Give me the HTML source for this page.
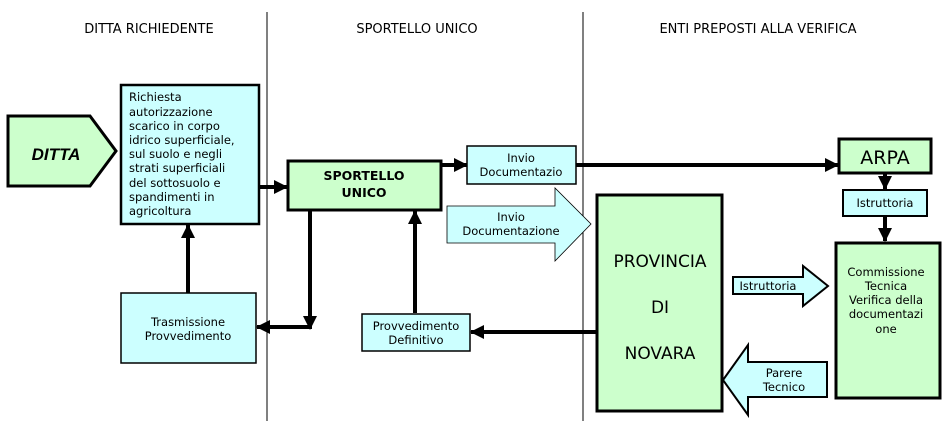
<!DOCTYPE html>
<html><head><meta charset="utf-8"><style>
html,body{margin:0;padding:0;background:#fff}
svg{display:block}
text{font-family:"DejaVu Sans","Liberation Sans",sans-serif;font-size:11.5px;fill:#000}
text.h{font-size:13px}
text.big{font-size:17px}
text.b{font-weight:bold;font-size:12.5px}
</style></head><body>
<svg width="951" height="421" viewBox="0 0 951 421" xmlns="http://www.w3.org/2000/svg">
<defs>
<marker id="a" markerWidth="14" markerHeight="14" refX="13" refY="7" orient="auto" markerUnits="userSpaceOnUse"><path d="M0,0 L14,7 L0,14 z" fill="#000"/></marker>
</defs>
<line x1="267" y1="12" x2="267" y2="421" stroke="#000" stroke-width="1"/>
<line x1="583" y1="12" x2="583" y2="421" stroke="#000" stroke-width="1"/>
<text class="h" x="149" y="33" text-anchor="middle">DITTA RICHIEDENTE</text>
<text class="h" x="417" y="33" text-anchor="middle">SPORTELLO UNICO</text>
<text class="h" x="758" y="33" text-anchor="middle">ENTI PREPOSTI ALLA VERIFICA</text>

<path d="M8,116 L90,116 L116,151 L90,186 L8,186 z" fill="#ccffcc" stroke="#000" stroke-width="3"/>
<text x="56" y="160" text-anchor="middle" style="font-size:17px;font-weight:bold;font-style:italic;font-family:'Liberation Sans',sans-serif">DITTA</text>

<rect x="121" y="85" width="138" height="139" fill="#ccffff" stroke="#000" stroke-width="2.5"/>
<text x="129" y="101">Richiesta</text>
<text x="129" y="116">autorizzazione</text>
<text x="129" y="130">scarico in corpo</text>
<text x="129" y="144">idrico superficiale,</text>
<text x="129" y="158">sul suolo e negli</text>
<text x="129" y="172">strati superficiali</text>
<text x="129" y="187">del sottosuolo e</text>
<text x="129" y="201">spandimenti in</text>
<text x="129" y="215">agricoltura</text>

<line x1="259" y1="187" x2="287" y2="187" stroke="#000" stroke-width="4" marker-end="url(#a)"/>

<rect x="288" y="161" width="153" height="49" fill="#ccffcc" stroke="#000" stroke-width="3"/>
<text class="b" x="364" y="180" text-anchor="middle">SPORTELLO</text>
<text class="b" x="364" y="197" text-anchor="middle">UNICO</text>

<rect x="121" y="293" width="135" height="70" fill="#ccffff" stroke="#000" stroke-width="1.5"/>
<text x="188" y="326" text-anchor="middle">Trasmissione</text>
<text x="188" y="340" text-anchor="middle">Provvedimento</text>
<line x1="188" y1="293" x2="188" y2="225" stroke="#000" stroke-width="4" marker-end="url(#a)"/>

<line x1="310" y1="210" x2="310" y2="329" stroke="#000" stroke-width="4" marker-end="url(#a)"/>
<line x1="312" y1="327" x2="257" y2="327" stroke="#000" stroke-width="4" marker-end="url(#a)"/>

<rect x="362" y="314" width="108" height="37" fill="#ccffff" stroke="#000" stroke-width="1.5"/>
<text x="416" y="330" text-anchor="middle">Provvedimento</text>
<text x="416" y="344" text-anchor="middle">Definitivo</text>
<line x1="415" y1="313" x2="415" y2="211" stroke="#000" stroke-width="4" marker-end="url(#a)"/>

<line x1="441" y1="165" x2="467" y2="165" stroke="#000" stroke-width="4" marker-end="url(#a)"/>
<rect x="467" y="146" width="109" height="38" fill="#ccffff" stroke="#000" stroke-width="1.5"/>
<text x="521" y="162" text-anchor="middle">Invio</text>
<text x="521" y="176" text-anchor="middle">Documentazio</text>
<line x1="576" y1="165" x2="838" y2="165" stroke="#000" stroke-width="4" marker-end="url(#a)"/>

<path d="M447,206 L555,206 L555,188 L591,224 L555,261 L555,243 L447,243 z" fill="#ccffff" stroke="#000" stroke-width="0.8"/>
<text x="511" y="221" text-anchor="middle">Invio</text>
<text x="511" y="235" text-anchor="middle">Documentazione</text>

<rect x="839" y="139" width="92" height="34" fill="#ccffcc" stroke="#000" stroke-width="3"/>
<text x="885" y="164" text-anchor="middle" style="font-size:19px">ARPA</text>
<line x1="885" y1="173" x2="885" y2="189" stroke="#000" stroke-width="4" marker-end="url(#a)"/>
<rect x="843" y="190" width="84" height="26" fill="#ccffff" stroke="#000" stroke-width="2"/>
<text x="885" y="207" text-anchor="middle">Istruttoria</text>
<line x1="885" y1="216" x2="885" y2="241" stroke="#000" stroke-width="4" marker-end="url(#a)"/>

<rect x="836" y="243" width="104" height="155" fill="#ccffcc" stroke="#000" stroke-width="3"/>
<text x="886" y="276" text-anchor="middle">Commissione</text>
<text x="886" y="290" text-anchor="middle">Tecnica</text>
<text x="886" y="304" text-anchor="middle">Verifica della</text>
<text x="886" y="318" text-anchor="middle">documentazi</text>
<text x="886" y="333" text-anchor="middle">one</text>

<rect x="597" y="195" width="125" height="216" fill="#ccffcc" stroke="#000" stroke-width="3"/>
<text class="big" x="660" y="267" text-anchor="middle">PROVINCIA</text>
<text class="big" x="660" y="313" text-anchor="middle">DI</text>
<text class="big" x="660" y="359" text-anchor="middle">NOVARA</text>
<line x1="596" y1="332" x2="471" y2="332" stroke="#000" stroke-width="4" marker-end="url(#a)"/>

<path d="M733,277 L803,277 L803,266 L828,286 L803,306 L803,294 L733,294 z" fill="#ccffff" stroke="#000" stroke-width="2"/>
<text x="768" y="290" text-anchor="middle">Istruttoria</text>

<path d="M827,362 L748,362 L748,345 L723,380 L748,415 L748,397 L827,397 z" fill="#ccffff" stroke="#000" stroke-width="2"/>
<text x="784" y="377" text-anchor="middle">Parere</text>
<text x="784" y="391" text-anchor="middle">Tecnico</text>
</svg>
</body></html>
